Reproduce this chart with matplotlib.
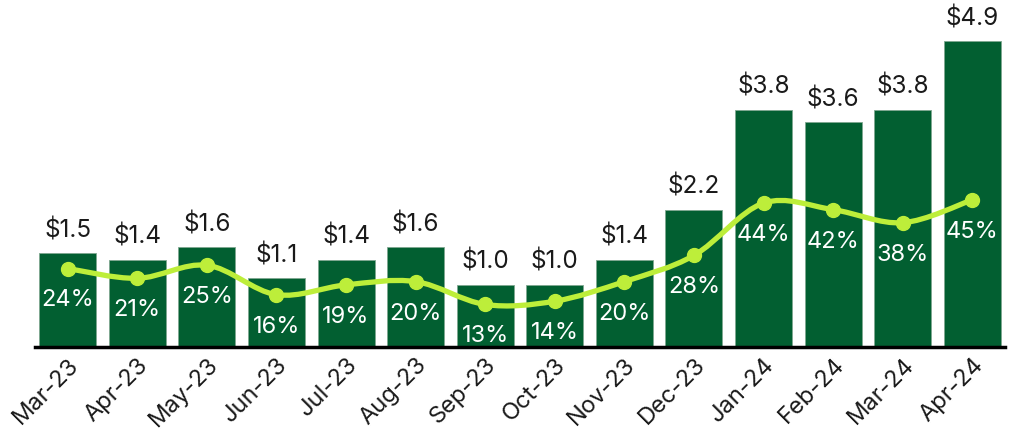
import matplotlib
matplotlib.use("Agg")
import matplotlib.pyplot as plt
import numpy as np
from matplotlib.path import Path
from matplotlib.patches import PathPatch

months = ["Mar-23", "Apr-23", "May-23", "Jun-23", "Jul-23", "Aug-23", "Sep-23",
          "Oct-23", "Nov-23", "Dec-23", "Jan-24", "Feb-24", "Mar-24", "Apr-24"]
revenue = [1.5, 1.4, 1.6, 1.1, 1.4, 1.6, 1.0, 1.0, 1.4, 2.2, 3.8, 3.6, 3.8, 4.9]
share = [24, 21, 25, 16, 19, 20, 13, 14, 20, 28, 44, 42, 38, 45]

BAR = "#025F31"
LINE = "#BDEE3A"

plt.rcParams['font.family'] = ['Inter', 'DejaVu Sans']

fig = plt.figure(figsize=(10.09, 4.33), dpi=100)
ax = fig.add_axes([35 / 1009, 86 / 433, 970 / 1009, 347 / 433])
x = np.arange(len(months))
bars = ax.bar(x, revenue, width=0.82, color=BAR, edgecolor="#7FA890", linewidth=0.6, zorder=2)
ax.set_xlim(-0.47, len(months) - 0.53)
ax.set_ylim(0, 5.56)
for xi, v in zip(x, revenue):
    ax.annotate(f"${v:.1f}", (xi, v), xytext=(0, 8), textcoords="offset points",
                ha="center", va="bottom", fontsize=17.5, color="#1a1a1a")

for s in ["top", "right", "left"]:
    ax.spines[s].set_visible(False)
ax.spines["bottom"].set_linewidth(2.5)
ax.spines["bottom"].set_color("black")
ax.set_yticks([])
ax.set_xticks(x)
ax.set_xticklabels(months, rotation=45, ha="right", rotation_mode="anchor", fontsize=17,
                   color="#1a1a1a")
ax.tick_params(axis="x", length=0, pad=5)

ax2 = ax.twinx()
ax2.set_ylim(0, 106.1)
ax2.axis("off")

# smooth curve through the points (Catmull-Rom as cubic Bezier segments)
pts = np.column_stack([x, share]).astype(float)
verts = [tuple(pts[0])]
codes = [Path.MOVETO]
t = 1 / 6
for i in range(len(pts) - 1):
    p0 = pts[i - 1] if i > 0 else pts[i]
    p1 = pts[i]
    p2 = pts[i + 1]
    p3 = pts[i + 2] if i + 2 < len(pts) else pts[i + 1]
    c1 = p1 + (p2 - p0) * t
    c2 = p2 - (p3 - p1) * t
    verts += [tuple(c1), tuple(c2), tuple(p2)]
    codes += [Path.CURVE4] * 3
path = Path(verts, codes)
ax2.add_patch(PathPatch(path, facecolor="none", edgecolor=LINE, linewidth=3.8,
                        capstyle="round", joinstyle="round", zorder=3))
ax2.plot(x, share, linestyle="none", marker="o", markersize=10, color=LINE, zorder=4)
for xi, p in zip(x, share):
    ax2.annotate(f"{p}%", (xi, p), xytext=(0, -23), textcoords="offset points",
                 ha="center", va="center", fontsize=17, color="white", zorder=5)

fig.savefig("out.png", dpi=100)
